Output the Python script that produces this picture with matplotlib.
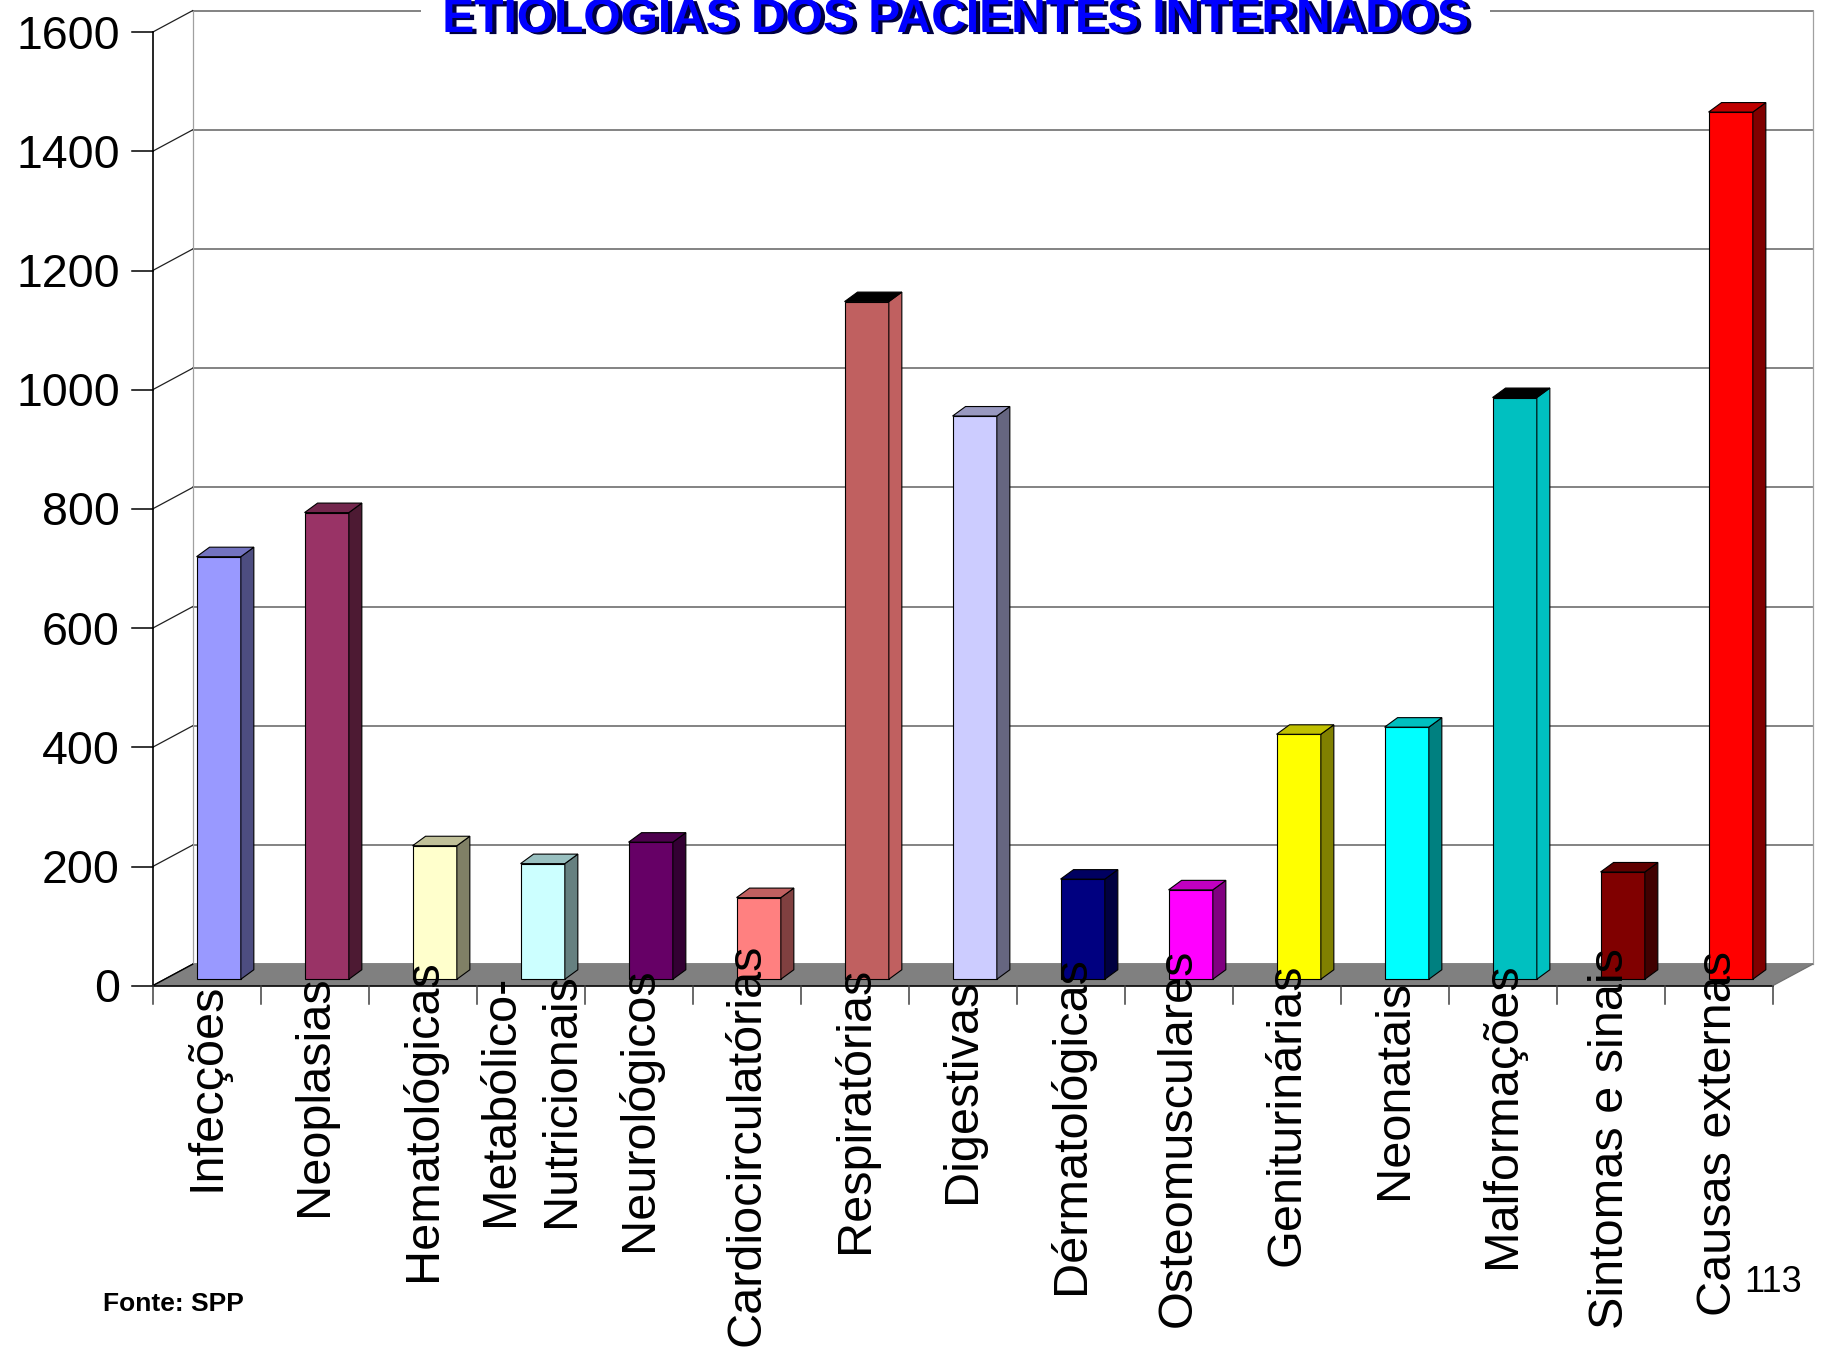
import matplotlib
matplotlib.use("Agg")
import matplotlib.pyplot as plt
from matplotlib.patches import Polygon
from matplotlib import patheffects

plt.rcParams['font.family'] = ['Liberation Sans', 'DejaVu Sans']

# internações por grupo de causas
categorias = ['Infecções', 'Neoplasias', 'Hematológicas', 'Metabólico-\nNutricionais',
              'Neurológicos', 'Cardiocirculatórias', 'Respiratórias', 'Digestivas',
              'Dérmatológicas', 'Osteomusculares', 'Geniturinárias', 'Neonatais',
              'Malformações', 'Sintomas e sinais', 'Causas externas']
internados = [709, 783, 224, 194, 230, 137, 1137, 945, 168, 150, 411, 423, 976, 180, 1455]
y_ticks = [0, 200, 400, 600, 800, 1000, 1200, 1400, 1600]

# cores: frente, lateral e topo de cada coluna
cor_frente = ['#9999FF', '#993366', '#FFFFCC', '#CCFFFF', '#660066', '#FF8080', '#C06060',
              '#CCCCFF', '#000080', '#FF00FF', '#FFFF00', '#00FFFF', '#00C0C0', '#800000', '#FF0000']
cor_lado = ['#4D4D80', '#4D1A33', '#808066', '#668080', '#330033', '#804040', '#C06060',
            '#666680', '#000040', '#800080', '#808000', '#008080', '#00C0C0', '#400000', '#800000']
cor_topo = ['#7373C0', '#73264D', '#C0C099', '#99C0C0', '#4D004D', '#C06060', '#000000',
            '#9999C0', '#000060', '#C000C0', '#C0C000', '#00C0C0', '#000000', '#600000', '#C00000']

W, H = 1824, 1347
fig = plt.figure(figsize=(W / 100, H / 100), dpi=100)
ax = fig.add_axes([0, 0, 1, 1])
ax.set_axis_off()

# escala: categorias em x, valores em y (plano da frente)
x0_px, cat_px = 152.7, 108.0
y0_px, unit_px = 985.7, 0.596
ax.set_xlim(-x0_px / cat_px, (W - x0_px) / cat_px)
ax.set_ylim((y0_px - H) / unit_px, y0_px / unit_px)

n = len(categorias)
ymax = y_ticks[-1]
DX, DY = 40 / cat_px, 21.5 / unit_px       # profundidade do piso/parede
f = 0.30                                   # posição da frente das colunas
bw = 0.41                                  # largura da coluna
bdx, bdy = 13 / cat_px, 9.5 / unit_px      # profundidade da coluna

# parede do fundo e parede lateral
for v in y_ticks:
    ax.plot([DX, n + DX], [v + DY, v + DY], color='#6e6e6e', lw=1.2, zorder=1)
    ax.plot([0, DX], [v, v + DY], color='#202020', lw=0.9, zorder=1)
    ax.plot([-0.195, 0], [v, v], color='black', lw=1.1, zorder=3)
    ax.text(-(x0_px - 120) / cat_px, v - 16.5 / unit_px, str(v), ha='right',
            va='baseline', fontsize=33.5, color='black')
ax.plot([DX, DX], [DY, ymax + DY], color='#a0a0a0', lw=0.9, zorder=1)
ax.plot([n + DX, n + DX], [DY, ymax + DY], color='#a0a0a0', lw=0.9, zorder=1)
ax.plot([0, 0], [0, ymax], color='black', lw=1.2, zorder=3)

# piso
ax.add_patch(Polygon([(0, 0), (n, 0), (n + DX, DY), (DX, DY)], closed=True,
                     fc='#808080', ec='none', zorder=2))
ax.plot([0, n], [0, 0], color='black', lw=1.2, zorder=3)
ax.plot([0, DX], [0, DY], color='black', lw=1.0, zorder=3)
ax.plot([n, n + DX], [0, DY], color='#707070', lw=0.9, zorder=3)
for i in range(n + 1):
    ax.plot([i, i], [0, -18 / unit_px], color='#404040', lw=1.1, zorder=3)

# colunas
for i, v in enumerate(internados):
    cx = i + 0.5 + f * DX
    xl, xr = cx - bw / 2, cx + bw / 2
    yb = f * DY
    yt = yb + v
    kw = dict(closed=True, ec='black', lw=0.8, zorder=4)
    ax.add_patch(Polygon([(xl, yb), (xr, yb), (xr, yt), (xl, yt)], fc=cor_frente[i], **kw))
    ax.add_patch(Polygon([(xr, yb), (xr + bdx, yb + bdy), (xr + bdx, yt + bdy), (xr, yt)],
                         fc=cor_lado[i], **kw))
    ax.add_patch(Polygon([(xl, yt), (xr, yt), (xr + bdx, yt + bdy), (xl + bdx, yt + bdy)],
                         fc=cor_topo[i], **kw))

# rótulos das categorias
rotulos = []
for i, nome in enumerate(categorias):
    t = ax.text(i + 0.5, 0, nome, rotation=90, ha='center', va='center',
                fontsize=35, linespacing=1.45, multialignment='center', zorder=6)
    rotulos.append(t)

fig.canvas.draw()
renderer = fig.canvas.get_renderer()
for t in rotulos:
    comp = t.get_window_extent(renderer).height
    centro_px = 1024 + 0.30 * comp
    t.set_y((y0_px - centro_px) / unit_px)

# título
fig.text(955.5 / W, 1 - 32 / H, 'ETIOLOGIAS DOS PACIENTES INTERNADOS', ha='center',
         va='baseline', fontsize=34.5, fontweight='bold', color='#0000FF',
         bbox=dict(boxstyle='square,pad=0.45', fc='white', ec='none'),
         path_effects=[patheffects.SimplePatchShadow(offset=(3, -1.5), shadow_rgbFace='#000040',
                                                     alpha=1.0),
                       patheffects.Normal()], zorder=7)

fig.text(103 / W, 1 - 1311 / H, 'Fonte: SPP', ha='left', va='baseline',
         fontsize=19, fontweight='bold')
fig.text(1802 / W, 1 - 1292 / H, '113', ha='right', va='baseline', fontsize=26)

fig.savefig('out.png', dpi=100, facecolor='white')
